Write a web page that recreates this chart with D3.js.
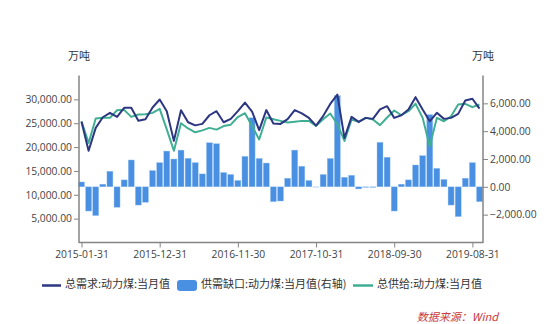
<!DOCTYPE html>
<html><head><meta charset="utf-8">
<script src="https://cdn.jsdelivr.net/npm/d3@7"></script>
<style>
html,body{margin:0;padding:0;background:#fff;}
svg{display:block;font-family:"Open Sans","Noto Sans CJK SC",sans-serif;}
</style></head>
<body>
<svg id="chart" width="554" height="324"></svg>
<script>
const dates = ["2015-01-31","2015-02-28","2015-03-31","2015-04-30","2015-05-31","2015-06-30","2015-07-31","2015-08-31","2015-09-30","2015-10-31","2015-11-30","2015-12-31",
"2016-01-31","2016-02-29","2016-03-31","2016-04-30","2016-05-31","2016-06-30","2016-07-31","2016-08-31","2016-09-30","2016-10-31","2016-11-30","2016-12-31",
"2017-01-31","2017-02-28","2017-03-31","2017-04-30","2017-05-31","2017-06-30","2017-07-31","2017-08-31","2017-09-30","2017-10-31","2017-11-30","2017-12-31",
"2018-01-31","2018-02-28","2018-03-31","2018-04-30","2018-05-31","2018-06-30","2018-07-31","2018-08-31","2018-09-30","2018-10-31","2018-11-30","2018-12-31",
"2019-01-31","2019-02-28","2019-03-31","2019-04-30","2019-05-31","2019-06-30","2019-07-31","2019-08-31","2019-09-30"];

const demand = [25300,19240,24020,26250,27170,26330,28230,28230,25500,25850,28300,29970,
27520,21300,27700,25200,24550,24860,26670,27520,25200,25910,27520,29320,
27450,23550,27750,24950,24850,25850,27750,27050,26100,24500,26500,29050,
31000,21900,26330,25280,26120,25910,27900,28570,26120,26670,27870,30460,
27870,25410,27170,25910,26120,26960,29760,30120,28050];

const supply = [25400,20860,26000,26120,26120,27720,27800,26330,26820,26900,27170,28000,
23700,19240,25000,23900,23100,23500,24020,23660,24400,24700,26300,27100,
24400,21600,26190,25830,25490,25130,25300,25490,25490,24440,25830,27030,
24780,21280,25770,25280,26120,25770,24600,26200,27660,26670,27520,29070,
26120,20150,26120,25410,26460,28920,29070,28360,28920];

const gap = [350,-1740,-2070,190,1120,-1470,500,1930,-1310,-1110,1170,1740,
2570,2000,2640,2050,1740,930,3170,3100,1030,890,460,2190,
4960,2040,1710,-1070,-1020,620,2640,1480,460,0,890,2040,
6550,690,830,-150,-30,-30,3200,2130,-1740,190,500,1570,
2240,5190,1330,530,-1310,-2140,620,1740,-1070];

const xTickLabels = ["2015-01-31","2015-12-31","2016-11-30","2017-10-31","2018-09-30","2019-08-31"];
const leftTicks = [5000,10000,15000,20000,25000,30000];
const rightTicks = [-2000,0,2000,4000,6000];
const seriesNames = ["总需求:动力煤:当月值","供需缺口:动力煤:当月值(右轴)","总供给:动力煤:当月值"];
const unitLabel = "万吨";
const sourceText = "数据来源：Wind";

const colNavy = "#2c3681", colTeal = "#3fae93", colBar = "#4a90e2";
const svg = d3.select("#chart");
const L = 79, R = 483, T = 75.5, B = 242.5;

const x = d3.scalePoint().domain(dates).range([81.5, 479.5]);
const yL = d3.scaleLinear().domain([0, 35000]).range([B, T]);
const yR = d3.scaleLinear().domain([-4000, 8000]).range([B, T]);
const fmt = d3.format(",.2f");

// bars
svg.append("g").selectAll("rect").data(gap).join("rect")
  .attr("x", (d,i) => x(dates[i]) - 3)
  .attr("width", 6)
  .attr("y", d => yR(Math.max(0,d)))
  .attr("height", d => Math.max(0.6, Math.abs(yR(d) - yR(0))))
  .attr("fill", colBar)
  .attr("stroke", "#9cc5f3").attr("stroke-width", 0.4)
  .attr("fill-opacity", d => d === 0 ? 0 : 1);

// lines
const lineL = d3.line().x((d,i) => x(dates[i])).y(d => yL(d));
svg.append("path").datum(supply).attr("d", lineL).attr("fill","none")
  .attr("stroke", colTeal).attr("stroke-width", 2).attr("stroke-linejoin","round");
svg.append("path").datum(demand).attr("d", lineL).attr("fill","none")
  .attr("stroke", colNavy).attr("stroke-width", 2).attr("stroke-linejoin","round");

// axes
const axisColor = "#858585", textColor = "#444";
const gL = svg.append("g").attr("transform", `translate(${L},0)`)
  .call(d3.axisLeft(yL).tickValues(leftTicks).tickFormat(fmt).tickSize(5).tickPadding(2));
const gR = svg.append("g").attr("transform", `translate(${R},0)`)
  .call(d3.axisRight(yR).tickValues(rightTicks).tickFormat(fmt).tickSize(5).tickPadding(2));
const gX = svg.append("g").attr("transform", `translate(0,${B})`)
  .call(d3.axisBottom(x).tickValues(xTickLabels).tickSize(5).tickPadding(3));
[gL,gR,gX].forEach(g => {
  g.select(".domain").remove();
  g.selectAll(".tick line").attr("stroke", axisColor).attr("stroke-width", 1);
  g.selectAll(".tick text").attr("fill", textColor).style("font-size","10.3px")
    .style("font-family","'Open Sans',sans-serif");
});
svg.append("line").attr("x1",L).attr("x2",L).attr("y1",T).attr("y2",B+0.5).attr("stroke",axisColor).attr("stroke-width",1.5);
svg.append("line").attr("x1",R).attr("x2",R).attr("y1",T).attr("y2",B+0.5).attr("stroke",axisColor).attr("stroke-width",1.5);
svg.append("line").attr("x1",L).attr("x2",R).attr("y1",B).attr("y2",B).attr("stroke",axisColor).attr("stroke-width",1.5);

// unit labels
[L, R].forEach(px => svg.append("text").attr("x", px).attr("y", 57)
  .attr("text-anchor","middle").attr("dominant-baseline","middle")
  .style("font-size","11px").style("font-family","'Noto Sans CJK SC',sans-serif")
  .attr("fill","#333").text(unitLabel));

// legend
const ly = 285.5;
const lg = svg.append("g").style("font-family","'Noto Sans CJK SC',sans-serif").style("font-size","11px");
lg.append("line").attr("x1",42).attr("x2",61).attr("y1",ly).attr("y2",ly).attr("stroke",colNavy).attr("stroke-width",2.5);
lg.append("text").attr("x",65).attr("y",ly).attr("dominant-baseline","middle").attr("fill","#333").text(seriesNames[0]);
lg.append("rect").attr("x",177).attr("y",ly-5.5).attr("width",20).attr("height",11).attr("rx",3).attr("fill",colBar);
lg.append("text").attr("x",201).attr("y",ly).attr("dominant-baseline","middle").attr("fill","#333").text(seriesNames[1]);
lg.append("line").attr("x1",353).attr("x2",373).attr("y1",ly).attr("y2",ly).attr("stroke",colTeal).attr("stroke-width",2.5);
lg.append("text").attr("x",377).attr("y",ly).attr("dominant-baseline","middle").attr("fill","#333").text(seriesNames[2]);

// source
svg.append("text").attr("x",498).attr("y",318).attr("text-anchor","end").attr("dominant-baseline","middle")
  .style("font-size","11px").style("font-style","italic").style("font-family","'Noto Sans CJK SC',serif")
  .attr("fill","#c83a3a").text(sourceText);
</script>
</body></html>
